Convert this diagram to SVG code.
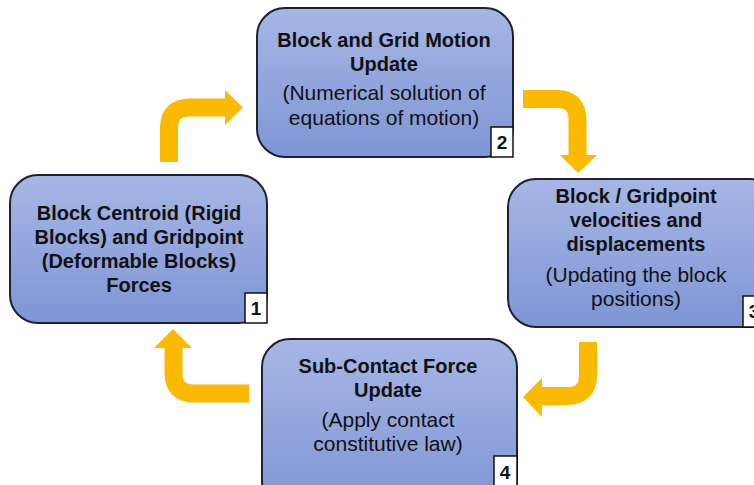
<svg xmlns="http://www.w3.org/2000/svg" width="754" height="485" viewBox="0 0 754 485">
<defs>
<linearGradient id="g" x1="0" y1="0" x2="0" y2="1">
<stop offset="0" stop-color="#a6b6e6"/>
<stop offset="1" stop-color="#7f95d4"/>
</linearGradient>
</defs>
<style>
.box{fill:url(#g);stroke:#1e2230;stroke-width:2}
.t{font-family:"Liberation Sans",Arial,sans-serif;font-size:20px;font-weight:bold;fill:#111;text-anchor:middle}
.s{font-family:"Liberation Sans",Arial,sans-serif;font-size:21px;fill:#111;text-anchor:middle}
.nb{fill:#fff;stroke:#111;stroke-width:1.5}
.n{font-family:"Liberation Sans",Arial,sans-serif;font-size:19px;font-weight:bold;fill:#111;text-anchor:middle}
.ar{fill:none;stroke:#fbb900;stroke-width:18}
.ah{fill:#fbb900}
</style>
<rect width="754" height="485" fill="#fff"/>
<g id="connectors">
<path class="ar" d="M169,162 V128 Q169,107.5 190,107.5 H226"/>
<polygon class="ah" points="225,90 243,107.5 225,125"/>
<path class="ar" d="M523,99 H557 Q577.5,99 577.5,120 V156"/>
<polygon class="ah" points="560,155 597,155 578,173"/>
<path class="ar" d="M588,342 V375 Q588,396 567,396 H541"/>
<polygon class="ah" points="542,378 542,417 523,397"/>
<path class="ar" d="M249,393.5 H194 Q173.5,393.5 173.5,373 V347"/>
<polygon class="ah" points="154,348 192,348 173,329"/>
</g>
<g id="node1">
<rect class="box" x="10" y="175" width="257" height="148" rx="28"/>
<text class="t" x="139" y="220">Block Centroid (Rigid</text>
<text class="t" x="139" y="244">Blocks) and Gridpoint</text>
<text class="t" x="139" y="268">(Deformable Blocks)</text>
<text class="t" x="139" y="292">Forces</text>
<rect class="nb" x="245" y="293" width="22" height="30"/>
<text class="n" x="256" y="315">1</text>
</g>
<g id="node2">
<rect class="box" x="257" y="8" width="256" height="149" rx="28"/>
<text class="t" x="384" y="47">Block and Grid Motion</text>
<text class="t" x="384" y="71">Update</text>
<text class="s" x="384" y="100">(Numerical solution of</text>
<text class="s" x="384" y="125">equations of motion)</text>
<rect class="nb" x="491" y="127" width="22" height="30"/>
<text class="n" x="502" y="149">2</text>
</g>
<g id="node3">
<rect class="box" x="508" y="179" width="270" height="148" rx="28"/>
<text class="t" x="636" y="203">Block / Gridpoint</text>
<text class="t" x="636" y="227">velocities and</text>
<text class="t" x="636" y="251">displacements</text>
<text class="s" x="636" y="282">(Updating the block</text>
<text class="s" x="636" y="306">positions)</text>
<rect class="nb" x="743" y="296" width="22" height="31"/>
<text class="n" x="754" y="318">3</text>
</g>
<g id="node4">
<rect class="box" x="262" y="339" width="255" height="170" rx="28"/>
<text class="t" x="388" y="373">Sub-Contact Force</text>
<text class="t" x="388" y="397">Update</text>
<text class="s" x="388" y="427">(Apply contact</text>
<text class="s" x="388" y="451">constitutive law)</text>
<rect class="nb" x="494" y="456" width="23" height="32"/>
<text class="n" x="505" y="479">4</text>
</g>
</svg>
